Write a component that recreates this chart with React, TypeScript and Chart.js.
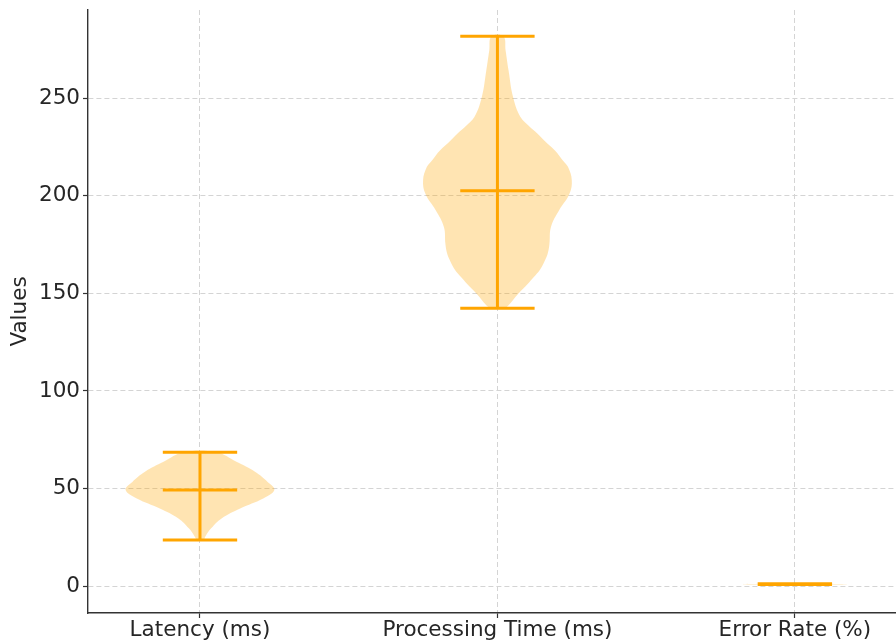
import React, { useEffect, useRef } from "react";
import { Chart, registerables } from "chart.js";

Chart.register(...registerables);

const categories = ["Latency (ms)", "Processing Time (ms)", "Error Rate (%)"];
const positions = [1, 2, 3];
const yTicks = [0, 50, 100, 150, 200, 250];

// violin outlines: value levels and relative half-widths (1 = widest)
const latencyLevels = [23.6, 25.3, 29.6, 34.7, 39.8, 44.9, 49.2, 53.4, 58.6, 63.7, 68.6];
const latencyWidths = [0.05, 0.07, 0.15, 0.29, 0.54, 0.85, 1.0, 0.91, 0.74, 0.49, 0.22];
const processingLevels = [142.4, 144, 149.9, 155, 158.4, 162, 167, 171, 175.6, 184.1, 192.6, 201.2, 208, 214.8, 218.2, 223.4, 228, 231.9, 236, 240.4, 250.7, 264.3, 274.6, 281.8];
const processingWidths = [0.09, 0.15, 0.28, 0.41, 0.49, 0.57, 0.64, 0.68, 0.70, 0.72, 0.83, 0.97, 1.0, 0.95, 0.88, 0.77, 0.64, 0.54, 0.42, 0.31, 0.21, 0.15, 0.11, 0.08];
const errorLevels = [0.8, 1.0, 1.2];
const errorWidths = [0.3, 0.7, 0.3];

const mins = [23.6, 142.4, 0.8];
const maxs = [68.6, 281.8, 1.2];
const centers = [49.2, 202.7, 1.0];

const HALF_WIDTH = 0.25;
const CAP_HALF = 0.125;
const LINE_COLOR = "#FFA500";
const BODY_COLOR = "rgba(255,165,0,0.3)";
const FONT = "'DejaVu Sans', sans-serif";
const FONT_SIZE = 21.5;

function bodyPoints(pos: number, levels: number[], widths: number[]) {
  const left = levels.map((v, i) => ({ x: pos - widths[i] * HALF_WIDTH, y: v }));
  const right = levels
    .map((v, i) => ({ x: pos + widths[i] * HALF_WIDTH, y: v }))
    .reverse();
  return [...left, ...right, left[0]];
}

function statPoints(i: number) {
  const p = positions[i];
  return [
    { x: p - CAP_HALF, y: mins[i] },
    { x: p + CAP_HALF, y: mins[i] },
    { x: p, y: null },
    { x: p - CAP_HALF, y: maxs[i] },
    { x: p + CAP_HALF, y: maxs[i] },
    { x: p, y: null },
    { x: p - CAP_HALF, y: centers[i] },
    { x: p + CAP_HALF, y: centers[i] },
    { x: p, y: null },
    { x: p, y: mins[i] },
    { x: p, y: maxs[i] },
  ];
}

export default function App() {
  const ref = useRef<HTMLCanvasElement>(null);
  useEffect(() => {
    if (!ref.current) return;
    const bodies = [
      bodyPoints(positions[0], latencyLevels, latencyWidths),
      bodyPoints(positions[1], processingLevels, processingWidths),
      bodyPoints(positions[2], errorLevels, errorWidths),
    ];
    const datasets: any[] = [];
    bodies.forEach((pts, i) => {
      datasets.push({
        label: categories[i] + " body",
        data: pts,
        showLine: true,
        fill: "shape",
        backgroundColor: BODY_COLOR,
        borderColor: "rgba(0,0,0,0)",
        borderWidth: 0,
        pointRadius: 0,
        tension: 0.4,
        order: 2,
      });
    });
    positions.forEach((_, i) => {
      datasets.push({
        label: categories[i] + " stats",
        data: statPoints(i),
        showLine: true,
        spanGaps: false,
        fill: false,
        borderColor: LINE_COLOR,
        borderWidth: 3,
        borderCapStyle: "butt",
        pointRadius: 0,
        tension: 0,
        order: 1,
      });
    });

    const gridOpts = {
      color: "#d4d4d4",
      lineWidth: 1,
      tickLength: 5,
      tickColor: "#333333",
      tickBorderDash: [],
      tickWidth: 1.2,
    };

    const chart = new Chart(ref.current, {
      type: "scatter",
      data: { datasets },
      options: {
        animation: false,
        responsive: false,
        maintainAspectRatio: false,
        layout: { padding: { top: 10, right: 0, left: 0, bottom: 0 } },
        plugins: {
          legend: { display: false },
          tooltip: { enabled: false },
        },
        scales: {
          x: {
            type: "linear",
            min: 0.6235,
            max: 3.34,
            afterBuildTicks: (scale: any) => {
              scale.ticks = positions.map((v) => ({ value: v }));
            },
            afterFit: (scale: any) => {
              scale.height = 28;
              scale.paddingLeft = 0;
              scale.paddingRight = 0;
            },
            ticks: {
              callback: (v: any) => {
                const idx = positions.indexOf(Number(v));
                return idx >= 0 ? categories[idx] : "";
              },
              font: { family: FONT, size: FONT_SIZE },
              color: "#262626",
              padding: 0,
              maxRotation: 0,
              autoSkip: false,
            },
            grid: gridOpts,
            border: { color: "#333333", width: 1.4, dash: [5, 3] },
          },
          y: {
            type: "linear",
            min: -13.8,
            max: 295.3,
            afterBuildTicks: (scale: any) => {
              scale.ticks = yTicks.map((v) => ({ value: v }));
            },
            afterFit: (scale: any) => {
              scale.width = 88;
              scale.paddingTop = 0;
              scale.paddingBottom = 0;
            },
            ticks: {
              font: { family: FONT, size: FONT_SIZE },
              color: "#262626",
              padding: 3,
            },
            grid: gridOpts,
            border: { color: "#333333", width: 1.4, dash: [5, 3] },
            title: {
              display: true,
              text: "Values",
              font: { family: FONT, size: FONT_SIZE },
              color: "#262626",
              padding: { top: 8, bottom: 4 },
            },
          },
        },
      },
    });
    return () => chart.destroy();
  }, []);

  return (
    <div style={{ position: "absolute", left: 0, top: 0, width: 896, height: 641, background: "#fff" }}>
      <canvas ref={ref} width={896} height={641} />
    </div>
  );
}
